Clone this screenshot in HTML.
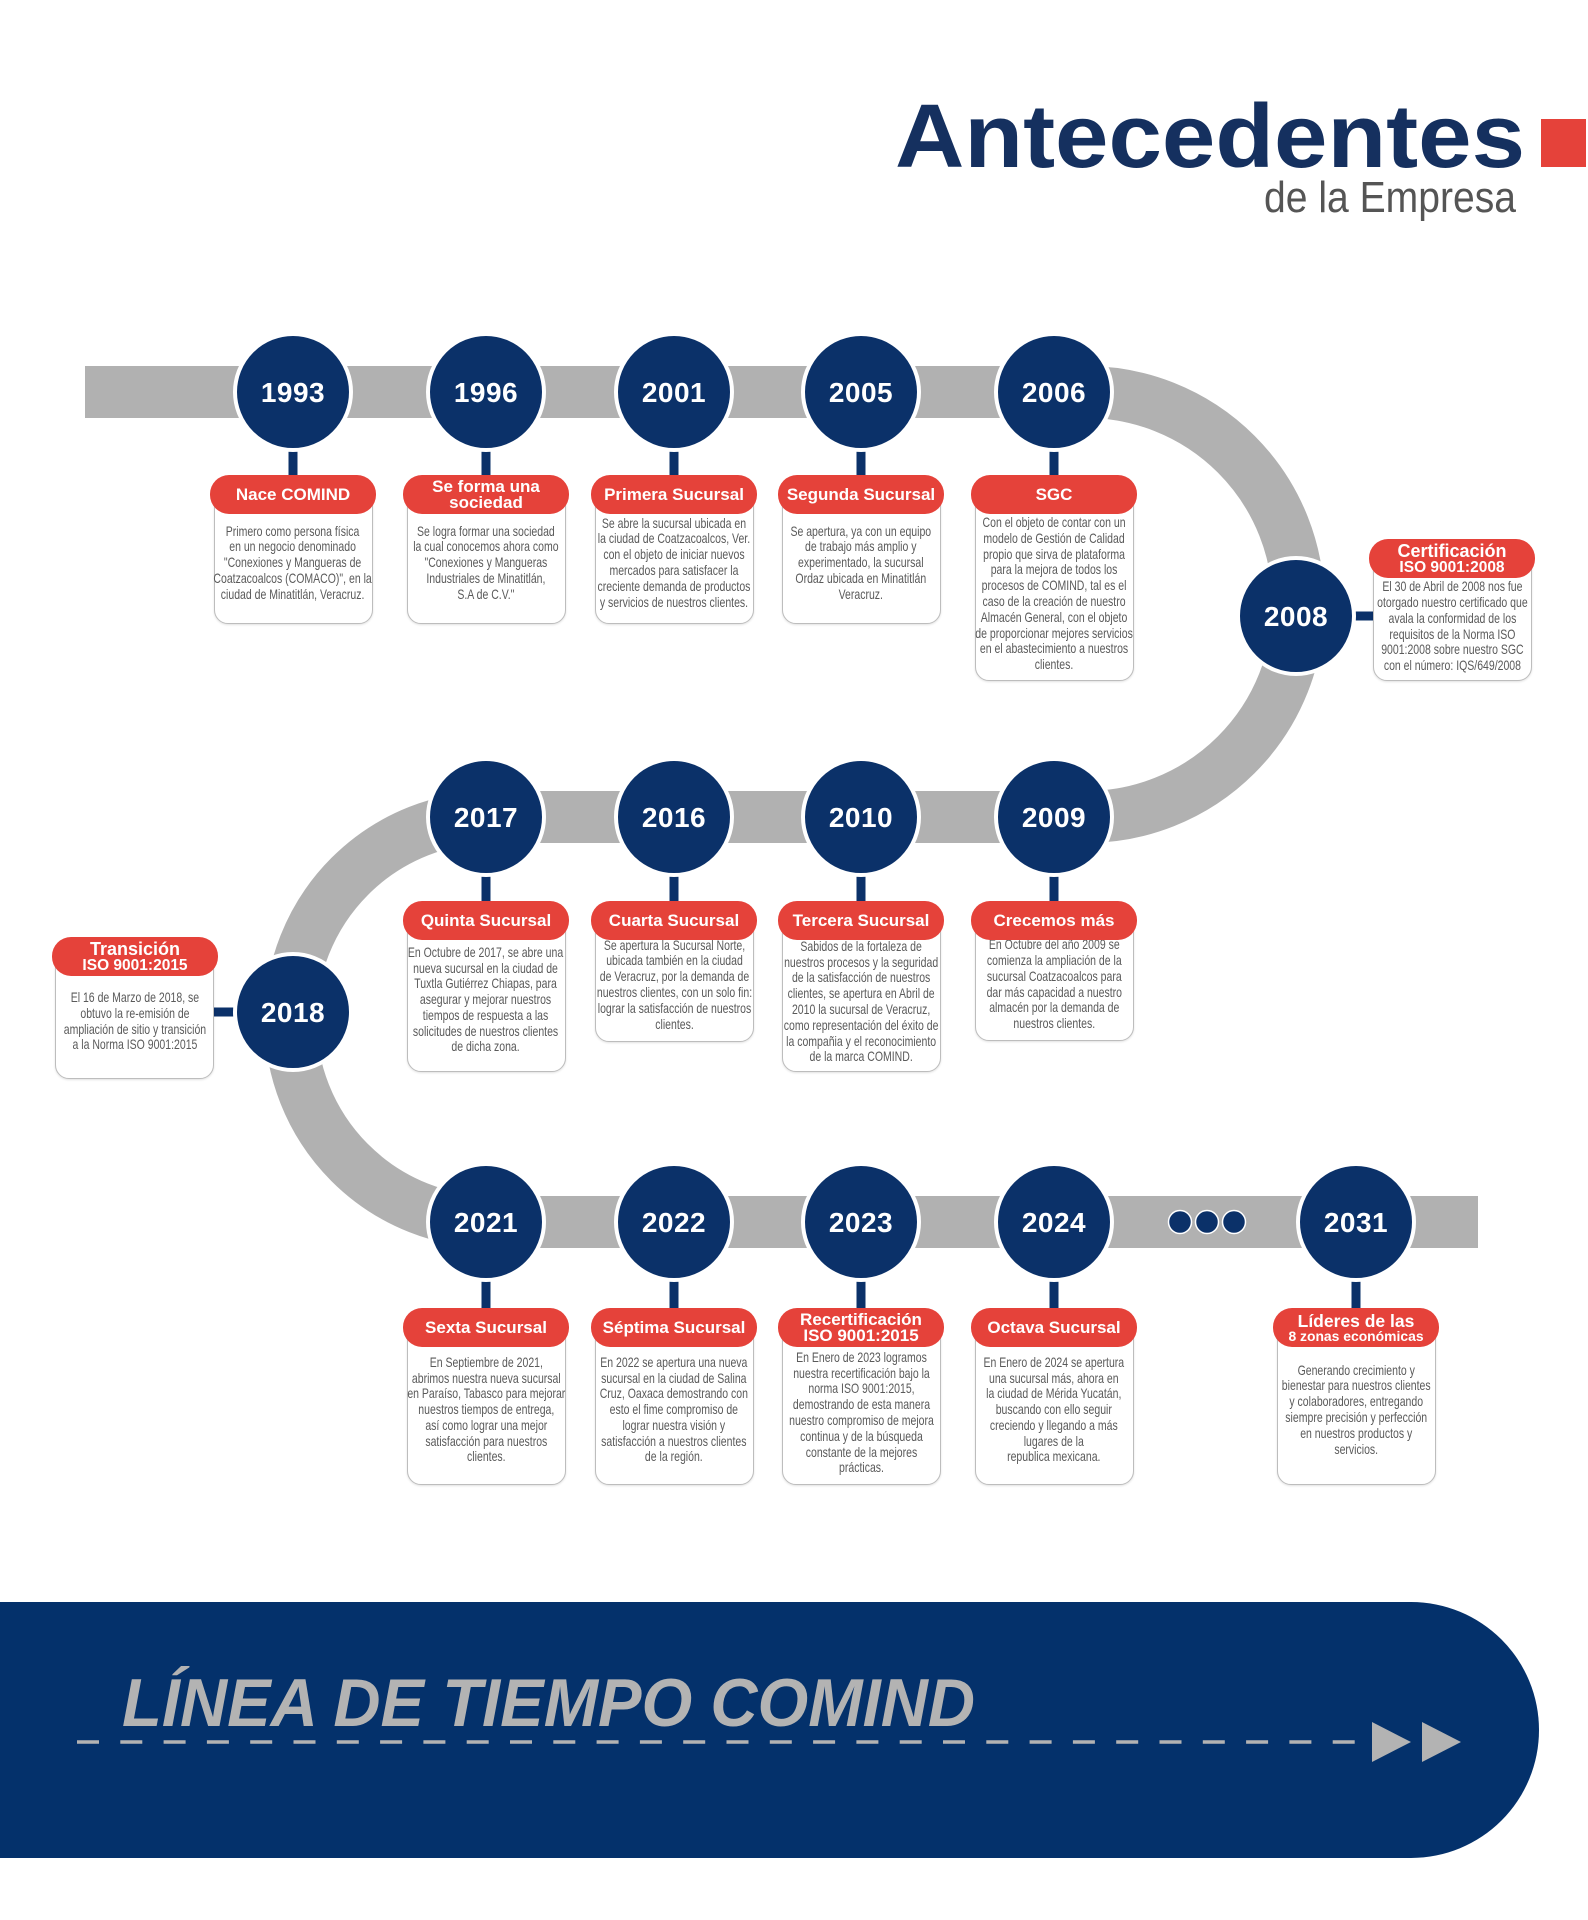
<!DOCTYPE html>
<html>
<head>
<meta charset="utf-8">
<style>
  html,body{margin:0;padding:0;background:#fff;}
  body{width:1588px;height:1920px;position:relative;overflow:hidden;font-family:"Liberation Sans",sans-serif;}
  svg.bg{position:absolute;left:0;top:0;}
  .card{position:absolute;width:159px;border:1.5px solid #bdbdbd;border-radius:14px;background:#fff;box-sizing:border-box;box-shadow:0 1px 2px rgba(0,0,0,0.12);}
  .txt{position:absolute;left:0;right:0;top:21px;bottom:12px;display:flex;flex-direction:column;justify-content:center;align-items:center;}
  .txt div{white-space:nowrap;text-align:center;font-family:"Liberation Sans",sans-serif;font-size:14px;line-height:15.8px;color:#5a5a5a;transform:scaleX(0.75);transform-origin:center center;}
  .pill{position:absolute;width:166px;height:39px;border-radius:19px;background:#e5423a;color:#fff;display:flex;flex-direction:column;align-items:center;justify-content:center;font-family:"Liberation Sans",sans-serif;font-weight:bold;font-size:17px;line-height:17px;text-align:center;white-space:nowrap;}
  .pill .l2{font-size:17px;line-height:16px;}
  .pill .s1{font-size:18px;line-height:17px;}
  .pill .s2{font-size:15.5px;line-height:15px;}
  .pill .t1{font-size:17.5px;line-height:16px;}
  .pill .t2{font-size:13.9px;line-height:14px;}
</style>
</head>
<body>
<svg class="bg" width="1588" height="1920" viewBox="0 0 1588 1920" xmlns="http://www.w3.org/2000/svg">
  <!-- Title -->
  <text x="895" y="167" font-family="Liberation Sans, sans-serif" font-weight="bold" font-size="90" fill="#15305f" textLength="630" lengthAdjust="spacingAndGlyphs">Antecedentes</text>
  <rect x="1541" y="119" width="45" height="48" fill="#e5423a"/>
  <text x="1264" y="212" font-family="Liberation Sans, sans-serif" font-size="44" fill="#555555" textLength="252" lengthAdjust="spacingAndGlyphs">de la Empresa</text>

  <!-- Road -->
  <path d="M85 392 H1086 A212.5 212.5 0 0 1 1086 817 H493 A202.5 202.5 0 0 0 493 1222 H1478" fill="none" stroke="#b1b1b1" stroke-width="52"/>

  <!-- Stems vertical -->
  <g fill="#0b3169">
    <rect x="288.5" y="446" width="9" height="31"/>
    <rect x="481.5" y="446" width="9" height="31"/>
    <rect x="669.5" y="446" width="9" height="31"/>
    <rect x="856.5" y="446" width="9" height="31"/>
    <rect x="1049.5" y="446" width="9" height="31"/>

    <rect x="481.5" y="871" width="9" height="32"/>
    <rect x="669.5" y="871" width="9" height="32"/>
    <rect x="856.5" y="871" width="9" height="32"/>
    <rect x="1049.5" y="871" width="9" height="32"/>

    <rect x="481.5" y="1276" width="9" height="34"/>
    <rect x="669.5" y="1276" width="9" height="34"/>
    <rect x="856.5" y="1276" width="9" height="34"/>
    <rect x="1049.5" y="1276" width="9" height="34"/>
    <rect x="1351.5" y="1276" width="9" height="34"/>

    <!-- horizontal stems -->
    <rect x="1350" y="611.5" width="25" height="9"/>
    <rect x="213" y="1007.5" width="26" height="9"/>
  </g>

  <!-- Circles -->
  <g fill="#0b3169" stroke="#ffffff" stroke-width="4">
    <circle cx="293" cy="392" r="58"/>
    <circle cx="486" cy="392" r="58"/>
    <circle cx="674" cy="392" r="58"/>
    <circle cx="861" cy="392" r="58"/>
    <circle cx="1054" cy="392" r="58"/>
    <circle cx="1296" cy="616" r="58"/>
    <circle cx="486" cy="817" r="58"/>
    <circle cx="674" cy="817" r="58"/>
    <circle cx="861" cy="817" r="58"/>
    <circle cx="1054" cy="817" r="58"/>
    <circle cx="293" cy="1012" r="58"/>
    <circle cx="486" cy="1222" r="58"/>
    <circle cx="674" cy="1222" r="58"/>
    <circle cx="861" cy="1222" r="58"/>
    <circle cx="1054" cy="1222" r="58"/>
    <circle cx="1356" cy="1222" r="58"/>
  </g>
  <g fill="#0b3169" stroke="#ffffff" stroke-width="1.5">
    <circle cx="1180" cy="1222" r="11.5"/>
    <circle cx="1207" cy="1222" r="11.5"/>
    <circle cx="1234" cy="1222" r="11.5"/>
  </g>

  <!-- Year labels -->
  <g font-family="Liberation Sans, sans-serif" font-weight="bold" font-size="28" fill="#ffffff" text-anchor="middle" letter-spacing="0.5">
    <text x="293" y="402">1993</text>
    <text x="486" y="402">1996</text>
    <text x="674" y="402">2001</text>
    <text x="861" y="402">2005</text>
    <text x="1054" y="402">2006</text>
    <text x="1296" y="626">2008</text>
    <text x="486" y="827">2017</text>
    <text x="674" y="827">2016</text>
    <text x="861" y="827">2010</text>
    <text x="1054" y="827">2009</text>
    <text x="293" y="1022">2018</text>
    <text x="486" y="1232">2021</text>
    <text x="674" y="1232">2022</text>
    <text x="861" y="1232">2023</text>
    <text x="1054" y="1232">2024</text>
    <text x="1356" y="1232">2031</text>
  </g>

  <!-- Banner -->
  <path d="M0 1602 H1411 A128 128 0 0 1 1411 1858 H0 Z" fill="#04316b"/>
  <text x="122" y="1726" font-family="Liberation Sans, sans-serif" font-weight="bold" font-style="italic" font-size="68" fill="#b3b3b3" textLength="853" lengthAdjust="spacingAndGlyphs">LÍNEA DE TIEMPO COMIND</text>
  <line x1="77" y1="1742" x2="1358" y2="1742" stroke="#b3b3b3" stroke-width="3.5" stroke-dasharray="22 21.3"/>
  <polygon points="1372,1722 1411,1742 1372,1762" fill="#b3b3b3"/>
  <polygon points="1422,1722 1461,1742 1422,1762" fill="#b3b3b3"/>
</svg>

<!-- ROW 1 -->
<div class="card" style="left:213.5px;top:493px;height:131px;"><div class="txt"><div>Primero como persona física<br>en un negocio denominado<br>"Conexiones y Mangueras de<br>Coatzacoalcos (COMACO)", en la<br>ciudad de Minatitlán, Veracruz.</div></div></div>
<div class="pill" style="left:210px;top:475px;">Nace COMIND</div>

<div class="card" style="left:406.5px;top:493px;height:131px;"><div class="txt"><div>Se logra formar una sociedad<br>la cual conocemos ahora como<br>"Conexiones y Mangueras<br>Industriales de Minatitlán,<br>S.A de C.V."</div></div></div>
<div class="pill" style="left:403px;top:475px;"><span class="l2">Se forma una</span><span class="l2">sociedad</span></div>

<div class="card" style="left:594.5px;top:493px;height:131px;"><div class="txt"><div>Se abre la sucursal ubicada en<br>la ciudad de Coatzacoalcos, Ver.<br>con el objeto de iniciar nuevos<br>mercados para satisfacer la<br>creciente demanda de productos<br>y servicios de nuestros clientes.</div></div></div>
<div class="pill" style="left:591px;top:475px;">Primera Sucursal</div>

<div class="card" style="left:781.5px;top:493px;height:131px;"><div class="txt"><div>Se apertura, ya con un equipo<br>de trabajo más amplio y<br>experimentado, la sucursal<br>Ordaz ubicada en Minatitlán<br>Veracruz.</div></div></div>
<div class="pill" style="left:778px;top:475px;">Segunda Sucursal</div>

<div class="card" style="left:974.5px;top:493px;height:188px;"><div class="txt" style="top:20px;bottom:6px;"><div>Con el objeto de contar con un<br>modelo de Gestión de Calidad<br>propio que sirva de plataforma<br>para la mejora de todos los<br>procesos de COMIND, tal es el<br>caso de la creación de nuestro<br>Almacén General, con el objeto<br>de proporcionar mejores servicios<br>en el abastecimiento a nuestros<br>clientes.</div></div></div>
<div class="pill" style="left:971px;top:475px;">SGC</div>

<!-- 2008 side -->
<div class="card" style="left:1373px;top:557px;height:124px;"><div class="txt" style="bottom:6px;"><div>El 30 de Abril de 2008 nos fue<br>otorgado nuestro certificado que<br>avala la conformidad de los<br>requisitos de la Norma ISO<br>9001:2008 sobre nuestro SGC<br>con el número: IQS/649/2008</div></div></div>
<div class="pill" style="left:1369px;top:539px;"><span class="s1">Certificación</span><span class="s2">ISO 9001:2008</span></div>

<!-- ROW 2 -->
<div class="card" style="left:406.5px;top:919px;height:153px;"><div class="txt"><div>En Octubre de 2017, se abre una<br>nueva sucursal en la ciudad de<br>Tuxtla Gutiérrez Chiapas, para<br>asegurar y mejorar nuestros<br>tiempos de respuesta a las<br>solicitudes de nuestros clientes<br>de dicha zona.</div></div></div>
<div class="pill" style="left:403px;top:901px;">Quinta Sucursal</div>

<div class="card" style="left:594.5px;top:919px;height:123px;"><div class="txt"><div>Se apertura la Sucursal Norte,<br>ubicada también en la ciudad<br>de Veracruz, por la demanda de<br>nuestros clientes, con un solo fin:<br>lograr la satisfacción de nuestros<br>clientes.</div></div></div>
<div class="pill" style="left:591px;top:901px;">Cuarta Sucursal</div>

<div class="card" style="left:781.5px;top:919px;height:153px;"><div class="txt" style="bottom:8px;"><div>Sabidos de la fortaleza de<br>nuestros procesos y la seguridad<br>de la satisfacción de nuestros<br>clientes, se apertura en Abril de<br>2010 la sucursal de Veracruz,<br>como representación del éxito de<br>la compañia y el reconocimiento<br>de la marca COMIND.</div></div></div>
<div class="pill" style="left:778px;top:901px;">Tercera Sucursal</div>

<div class="card" style="left:974.5px;top:919px;height:122px;"><div class="txt"><div>En Octubre del año 2009 se<br>comienza la ampliación de la<br>sucursal Coatzacoalcos para<br>dar más capacidad a nuestro<br>almacén por la demanda de<br>nuestros clientes.</div></div></div>
<div class="pill" style="left:971px;top:901px;">Crecemos más</div>

<!-- 2018 side -->
<div class="card" style="left:55px;top:955px;height:124px;"><div class="txt"><div>El 16 de Marzo de 2018, se<br>obtuvo la re-emisión de<br>ampliación de sitio y transición<br>a la Norma ISO 9001:2015</div></div></div>
<div class="pill" style="left:52px;top:937px;"><span class="s1">Transición</span><span class="s2">ISO 9001:2015</span></div>

<!-- ROW 3 -->
<div class="card" style="left:406.5px;top:1326px;height:159px;"><div class="txt"><div>En Septiembre de 2021,<br>abrimos nuestra nueva sucursal<br>en Paraíso, Tabasco para mejorar<br>nuestros tiempos de entrega,<br>así como lograr una mejor<br>satisfacción para nuestros<br>clientes.</div></div></div>
<div class="pill" style="left:403px;top:1308px;">Sexta Sucursal</div>

<div class="card" style="left:594.5px;top:1326px;height:159px;"><div class="txt"><div>En 2022 se apertura una nueva<br>sucursal en la ciudad de Salina<br>Cruz, Oaxaca demostrando con<br>esto el fime compromiso de<br>lograr nuestra visión y<br>satisfacción a nuestros clientes<br>de la región.</div></div></div>
<div class="pill" style="left:591px;top:1308px;">Séptima Sucursal</div>

<div class="card" style="left:781.5px;top:1326px;height:159px;"><div class="txt" style="bottom:6px;"><div>En Enero de 2023 logramos<br>nuestra recertificación bajo la<br>norma ISO 9001:2015,<br>demostrando de esta manera<br>nuestro compromiso de mejora<br>continua y de la búsqueda<br>constante de la mejores<br>prácticas.</div></div></div>
<div class="pill" style="left:778px;top:1308px;"><span class="l2">Recertificación</span><span class="l2">ISO 9001:2015</span></div>

<div class="card" style="left:974.5px;top:1326px;height:159px;"><div class="txt"><div>En Enero de 2024 se apertura<br>una sucursal más, ahora en<br>la ciudad de Mérida Yucatán,<br>buscando con ello seguir<br>creciendo y llegando a más<br>lugares de la<br>republica mexicana.</div></div></div>
<div class="pill" style="left:971px;top:1308px;">Octava Sucursal</div>

<div class="card" style="left:1276.5px;top:1326px;height:159px;"><div class="txt"><div>Generando crecimiento y<br>bienestar para nuestros clientes<br>y colaboradores, entregando<br>siempre precisión y perfección<br>en nuestros productos y<br>servicios.</div></div></div>
<div class="pill" style="left:1273px;top:1308px;"><span class="t1">Líderes de las</span><span class="t2">8 zonas económicas</span></div>

</body>
</html>
